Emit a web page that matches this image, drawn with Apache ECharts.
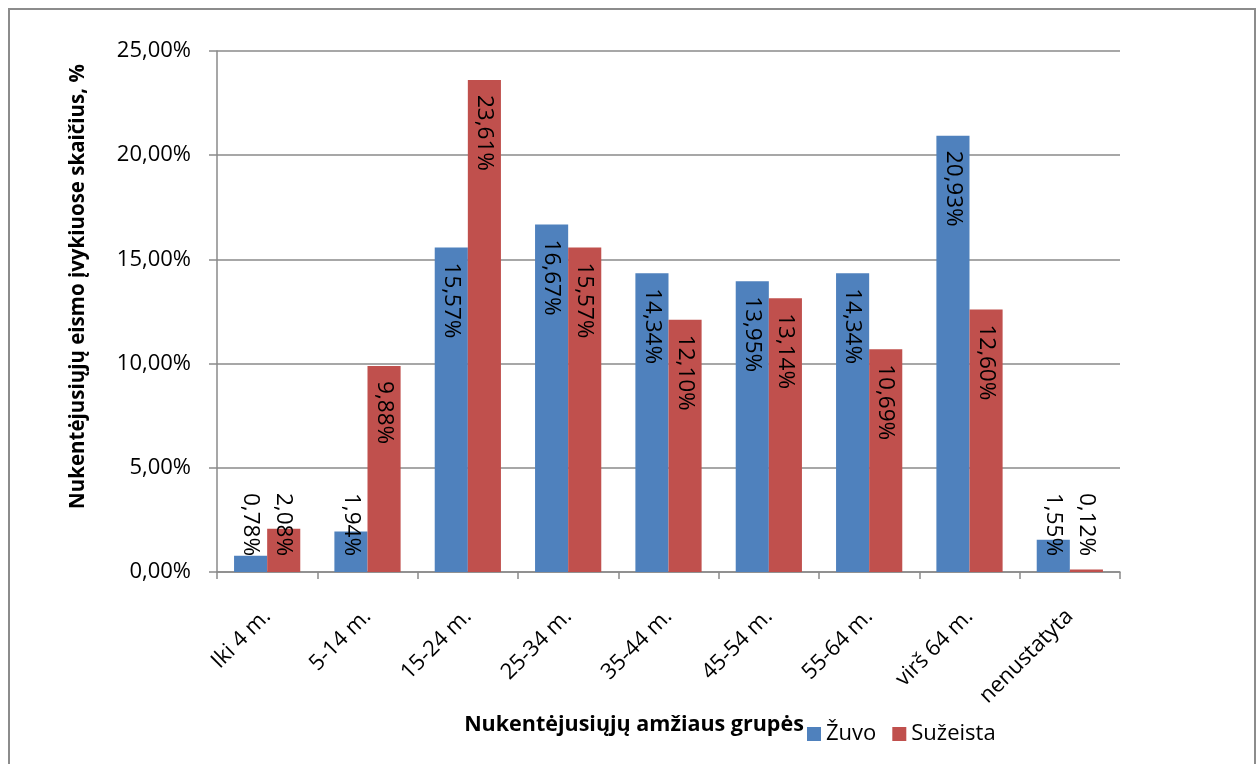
<!DOCTYPE html>
<html>
<head>
<meta charset="utf-8">
<script src="https://cdn.jsdelivr.net/npm/echarts@6/dist/echarts.min.js"></script>
<style>
  html, body { margin: 0; padding: 0; background: #ffffff; }
  #chart { width: 1257px; height: 764px; }
</style>
</head>
<body>
<div id="chart"></div>
<script>
// Age groups of road accident victims
var categories = ['Iki 4 m.', '5-14 m.', '15-24 m.', '25-34 m.', '35-44 m.', '45-54 m.', '55-64 m.', 'virš 64 m.', 'nenustatyta'];
// Share of killed (Žuvo) and injured (Sužeista), percent
var zuvo = [0.78, 1.94, 15.57, 16.67, 14.34, 13.95, 14.34, 20.93, 1.55];
var suzeista = [2.08, 9.88, 23.61, 15.57, 12.10, 13.14, 10.69, 12.60, 0.12];
var seriesNames = ['Žuvo', 'Sužeista'];
var yTicks = { min: 0, max: 25, interval: 5 };

var FONT = '"Open Sans", "Noto Sans", sans-serif';
var GRID_COLOR = '#8a8a8a';

function pct(v) {
  return v.toFixed(2).replace('.', ',') + '%';
}

// Labels read top-to-bottom inside the bar top; for short bars they sit
// just above the baseline instead.
function labelled(values) {
  return values.map(function (v) {
    var item = { value: v };
    if (v < 4) {
      item.label = { position: 'insideBottom', distance: 16, align: 'right' };
    }
    return item;
  });
}

var baseLabel = {
  show: true,
  position: 'insideTop',
  distance: 15,
  rotate: -90,
  align: 'left',
  verticalAlign: 'middle',
  color: '#000000',
  fontFamily: FONT,
  fontSize: 22.5,
  formatter: function (p) { return pct(p.value); }
};

var chart = echarts.init(document.getElementById('chart'), null, { renderer: 'canvas' });

chart.setOption({
  animation: false,
  backgroundColor: '#ffffff',
  textStyle: { fontFamily: FONT },
  grid: { left: 217, right: 137, top: 51, bottom: 192, containLabel: false },
  legend: {
    data: seriesNames,
    left: 802,
    top: 718,
    icon: 'rect',
    itemWidth: 14,
    itemHeight: 14,
    itemGap: 16,
    textStyle: { fontFamily: FONT, fontSize: 22, color: '#000000' }
  },
  xAxis: {
    type: 'category',
    data: categories,
    name: 'Nukentėjusiųjų amžiaus grupės',
    nameLocation: 'middle',
    nameGap: 137,
    nameTextStyle: {
      fontFamily: FONT, fontSize: 21.5, fontWeight: 'bold', color: '#000000',
      padding: [0, 69, 0, 0]
    },
    axisLine: { show: true, lineStyle: { color: GRID_COLOR, width: 1.5 } },
    axisTick: { show: true, alignWithLabel: false, length: 7, lineStyle: { color: GRID_COLOR, width: 1.5 } },
    axisLabel: {
      rotate: 45,
      margin: 41,
      interval: 0,
      fontFamily: FONT,
      fontSize: 22,
      color: '#000000'
    },
    splitLine: { show: false }
  },
  yAxis: {
    type: 'value',
    min: yTicks.min,
    max: yTicks.max,
    interval: yTicks.interval,
    name: 'Nukentėjusiųjų eismo įvykiuose skaičius, %',
    nameLocation: 'middle',
    nameGap: 128,
    nameTextStyle: {
      fontFamily: FONT, fontSize: 20.5, fontWeight: 'bold', color: '#000000',
      padding: [0, 0, 0, 50]
    },
    axisLine: { show: true, lineStyle: { color: GRID_COLOR, width: 1.5 } },
    axisTick: { show: true, length: 8, lineStyle: { color: GRID_COLOR, width: 1.5 } },
    axisLabel: {
      margin: 26,
      fontFamily: FONT,
      fontSize: 22,
      color: '#000000',
      formatter: function (v) { return pct(v); }
    },
    splitLine: { show: true, lineStyle: { color: GRID_COLOR, width: 1.5 } }
  },
  series: [
    {
      name: seriesNames[0],
      type: 'bar',
      data: labelled(zuvo),
      barGap: '0%',
      barCategoryGap: '34%',
      itemStyle: { color: '#4f81bd' },
      label: baseLabel
    },
    {
      name: seriesNames[1],
      type: 'bar',
      data: labelled(suzeista),
      barGap: '0%',
      barCategoryGap: '34%',
      itemStyle: { color: '#c0504d' },
      label: baseLabel
    }
  ],
  graphic: [
    {
      type: 'rect',
      silent: true,
      shape: { x: 9, y: 9, width: 1246, height: 800 },
      style: { fill: 'none', stroke: '#8c8c8c', lineWidth: 2 }
    }
  ]
});
</script>
</body>
</html>
